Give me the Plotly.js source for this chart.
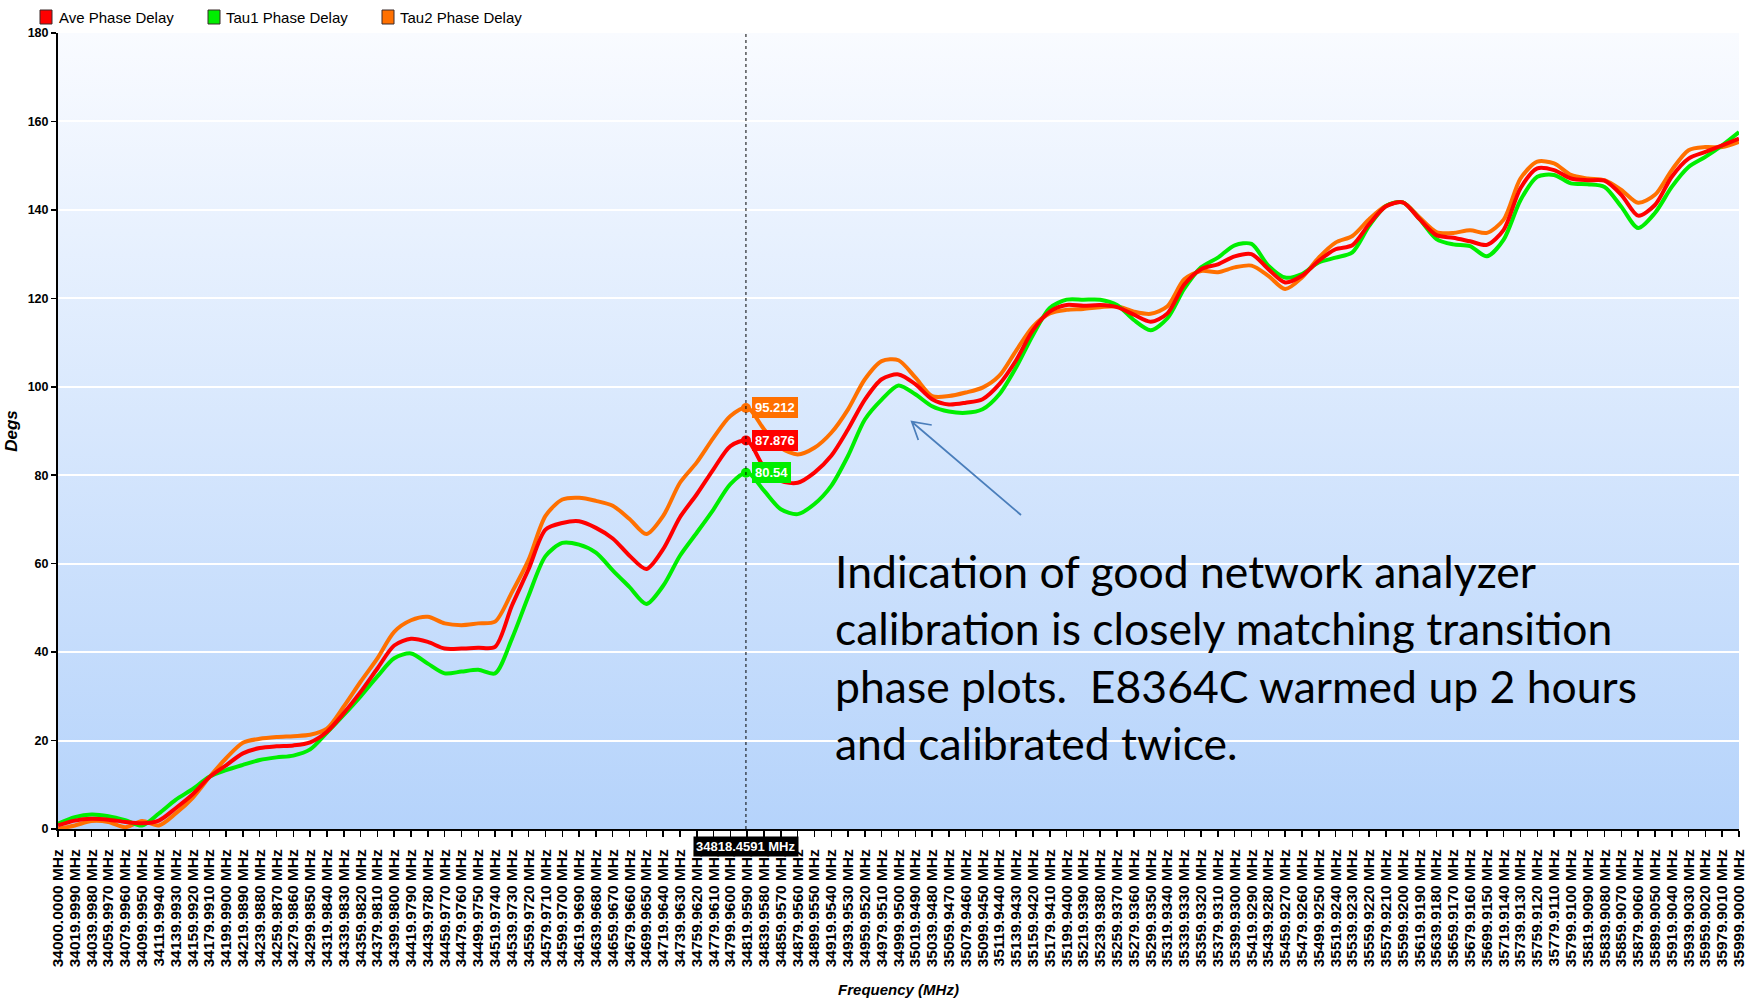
<!DOCTYPE html>
<html>
<head>
<meta charset="utf-8">
<script src="https://cdn.plot.ly/plotly-3.0.1.min.js"></script>
<style>
  html, body { margin: 0; padding: 0; background: #ffffff; }
  #chart { width: 1753px; height: 1005px; }
</style>
</head>
<body>
<div id="chart"></div>
<script>
// ---------------- data ----------------
const freqTicks = [
  34000.000, 34019.999, 34039.998, 34059.997, 34079.996, 34099.995, 34119.994, 34139.993, 34159.992, 34179.991,
  34199.990, 34219.989, 34239.988, 34259.987, 34279.986, 34299.985, 34319.984, 34339.983, 34359.982, 34379.981,
  34399.980, 34419.979, 34439.978, 34459.977, 34479.976, 34499.975, 34519.974, 34539.973, 34559.972, 34579.971,
  34599.970, 34619.969, 34639.968, 34659.967, 34679.966, 34699.965, 34719.964, 34739.963, 34759.962, 34779.961,
  34799.960, 34819.959, 34839.958, 34859.957, 34879.956, 34899.955, 34919.954, 34939.953, 34959.952, 34979.951,
  34999.950, 35019.949, 35039.948, 35059.947, 35079.946, 35099.945, 35119.944, 35139.943, 35159.942, 35179.941,
  35199.940, 35219.939, 35239.938, 35259.937, 35279.936, 35299.935, 35319.934, 35339.933, 35359.932, 35379.931,
  35399.930, 35419.929, 35439.928, 35459.927, 35479.926, 35499.925, 35519.924, 35539.923, 35559.922, 35579.921,
  35599.920, 35619.919, 35639.918, 35659.917, 35679.916, 35699.915, 35719.914, 35739.913, 35759.912, 35779.911,
  35799.910, 35819.909, 35839.908, 35859.907, 35879.906, 35899.905, 35919.904, 35939.903, 35959.902, 35979.901,
  35999.900
];

const aveDelay = [
  0.8, 1.9, 2.3, 2.1, 1.6, 1.3, 1.9, 4.7, 7.8, 11.7,
  14.4, 17.1, 18.3, 18.7, 18.9, 19.6, 22.0, 26.2, 31.0, 36.3,
  41.5, 43.0, 42.3, 40.8, 40.8, 41.0, 41.2, 50.5, 58.8, 67.7,
  69.2, 69.6, 68.1, 65.7, 61.8, 58.8, 63.3, 70.5, 75.7, 81.4,
  86.6, 87.8, 81.8, 78.7, 78.3, 80.6, 84.4, 90.4, 97.1, 101.7,
  102.8, 100.6, 97.2, 96.0, 96.4, 97.2, 100.6, 106.0, 112.8, 117.0,
  118.5, 118.3, 118.5, 118.0, 116.3, 114.7, 116.6, 123.1, 126.6, 127.7,
  129.5, 130.0, 126.6, 123.6, 125.1, 128.5, 131.1, 132.0, 136.8, 140.8,
  141.7, 137.9, 134.3, 133.7, 132.9, 132.1, 135.5, 144.9, 149.4, 149.0,
  147.1, 146.7, 146.6, 143.4, 138.7, 141.1, 147.5, 151.6, 153.1, 154.6,
  156.1
];

const tau1Delay = [
  1.2, 2.7, 3.3, 2.9, 2.0, 0.8, 3.5, 6.6, 9.0, 11.8,
  13.3, 14.5, 15.6, 16.2, 16.6, 18.0, 21.8, 25.8, 30.0, 34.5,
  38.6, 39.7, 37.4, 35.2, 35.6, 36.0, 35.2, 43.0, 52.8, 61.7,
  64.7, 64.3, 62.5, 58.5, 54.7, 50.9, 55.0, 61.8, 67.0, 72.3,
  78.0, 80.6, 76.5, 72.3, 71.2, 73.5, 77.6, 84.4, 92.6, 97.1,
  100.3, 98.3, 95.6, 94.4, 94.1, 94.9, 98.3, 104.4, 111.7, 117.8,
  119.7, 119.7, 119.7, 118.5, 115.1, 112.8, 115.5, 122.2, 127.0, 129.2,
  132.0, 132.3, 127.4, 124.7, 125.5, 128.1, 129.2, 130.4, 136.4, 140.9,
  141.7, 137.9, 133.4, 132.2, 131.8, 129.5, 133.3, 142.2, 147.5, 147.9,
  146.0, 145.8, 145.2, 140.7, 135.9, 139.3, 145.2, 149.7, 152.0, 154.6,
  157.6
];

const tau2Delay = [
  0.0, 0.8, 1.8, 1.6, 0.4, 1.8, 0.8, 3.5, 7.0, 11.7,
  16.0, 19.5, 20.4, 20.8, 21.0, 21.3, 22.7, 27.7, 33.3, 38.6,
  44.6, 47.2, 48.0, 46.5, 46.1, 46.5, 46.9, 53.5, 60.9, 70.8,
  74.5, 74.9, 74.2, 73.1, 70.1, 66.7, 70.8, 78.3, 82.9, 88.5,
  93.4, 95.3, 90.4, 86.2, 84.7, 86.2, 89.6, 94.9, 101.7, 105.8,
  106.0, 102.1, 97.9, 97.9, 98.7, 99.8, 102.5, 108.2, 113.6, 116.6,
  117.4, 117.6, 118.0, 118.2, 117.0, 116.5, 118.2, 124.3, 126.2, 125.9,
  127.0, 127.4, 125.1, 122.1, 124.7, 129.2, 132.6, 134.1, 137.9, 140.9,
  141.7, 138.3, 135.0, 134.8, 135.4, 134.8, 137.8, 147.1, 150.9, 150.5,
  147.9, 147.1, 146.7, 144.5, 141.6, 143.4, 149.0, 153.5, 154.2, 154.2,
  155.4
];

const seriesNames = ['Ave Phase Delay', 'Tau1 Phase Delay', 'Tau2 Phase Delay'];
const cursorFreq = 34818.4591;
const cursorValues = [87.876, 80.54, 95.212];   // Ave, Tau1, Tau2
const cursorLabels = ['87.876', '80.54', '95.212'];
const yTickValues = [0, 20, 40, 60, 80, 100, 120, 140, 160, 180];
const noteLines = [
  'Indication of good network analyzer',
  'calibration is closely matching transition',
  'phase plots.  E8364C warmed up 2 hours',
  'and calibrated twice.'
];
const arrowTail = [35145.7, 71.0];
const arrowTip = [35015.7, 92.1];
const arrowArm1 = [35039.5, 91.36];
const arrowArm2 = [35023.5, 87.97];

// ---------------- styling ----------------
const colors = ['#ff0000', '#00ee00', '#ff7000'];
const SANS = "'Liberation Sans', Arial, sans-serif";
const W = 1753, H = 1005;
const M = { l: 58, r: 14, t: 33, b: 176 };
const PW = W - M.l - M.r, PH = H - M.t - M.b;
const px = x => (x - M.l) / PW;          // pixel -> paper x
const py = y => (H - M.b - y) / PH;      // pixel -> paper y

const series = [aveDelay, tau1Delay, tau2Delay];
const drawOrder = [2, 1, 0];
const traces = drawOrder.map(i => ({
  type: 'scatter', mode: 'lines', name: seriesNames[i],
  x: freqTicks, y: series[i],
  line: { color: colors[i], width: 4, shape: 'spline', smoothing: 0.8 },
  showlegend: false, hoverinfo: 'x+y'
}));
traces.push({
  type: 'scatter', mode: 'markers', name: 'cursor',
  x: cursorValues.map(() => cursorFreq), y: cursorValues,
  marker: { color: colors, size: 10 }, showlegend: false
});

const bgSvg = "<svg xmlns='http://www.w3.org/2000/svg' width='10' height='100' preserveAspectRatio='none'>" +
  "<defs><linearGradient id='g' x1='0' y1='0' x2='0' y2='1'>" +
  "<stop offset='0' stop-color='#f9fbff'/><stop offset='1' stop-color='#b5d3fb'/>" +
  "</linearGradient></defs><rect width='10' height='100' fill='url(#g)'/></svg>";

const shapes = [
  { type: 'line', xref: 'x', yref: 'paper', x0: cursorFreq, x1: cursorFreq, y0: 0, y1: 1,
    line: { color: '#000000', width: 1, dash: 'dot' }, layer: 'above' },
  { type: 'path', xref: 'x', yref: 'y', layer: 'above',
    path: `M ${arrowTail[0]},${arrowTail[1]} L ${arrowTip[0]},${arrowTip[1]} M ${arrowArm1[0]},${arrowArm1[1]} L ${arrowTip[0]},${arrowTip[1]} L ${arrowArm2[0]},${arrowArm2[1]}`,
    line: { color: '#4a7ebb', width: 1.75 } }
];

const legendSquareX = [40, 208, 382];
const legendTextX = [57, 224, 398];
const annotations = [];
seriesNames.forEach((name, i) => {
  shapes.push({ type: 'rect', xref: 'paper', yref: 'paper',
    x0: px(legendSquareX[i]), x1: px(legendSquareX[i] + 12), y0: py(24), y1: py(10),
    fillcolor: colors[i], line: { color: '#3a2a2a', width: 1 } });
  annotations.push({ xref: 'paper', yref: 'paper', x: px(legendTextX[i]), y: py(17.5),
    xanchor: 'left', yanchor: 'middle', showarrow: false, text: name,
    font: { family: SANS, size: 15, color: '#000000' } });
});

cursorValues.forEach((v, i) => {
  annotations.push({ xref: 'x', yref: 'y', x: cursorFreq, y: v, xanchor: 'left', yanchor: 'middle',
    xshift: 6, showarrow: false, text: cursorLabels[i], bgcolor: colors[i], borderpad: 2,
    bordercolor: colors[i], font: { family: SANS, size: 13, color: '#ffffff', weight: 'bold' } });
});

annotations.push({ xref: 'x', yref: 'paper', x: cursorFreq, y: py(846.5), xanchor: 'center', yanchor: 'middle',
  showarrow: false, text: cursorFreq.toFixed(4) + ' MHz', bgcolor: '#000000', borderpad: 2,
  font: { family: SANS, size: 13, color: '#ffffff', weight: 'bold' } });

noteLines.forEach((t, k) => {
  annotations.push({ xref: 'paper', yref: 'paper', x: px(833), y: py(570 + 57.6 * k),
    xanchor: 'left', yanchor: 'middle', showarrow: false, text: t,
    font: { family: "Lato, 'Open Sans', sans-serif", size: 44.5, color: '#000000' } });
});

const layout = {
  width: W, height: H,
  margin: M,
  paper_bgcolor: '#ffffff',
  plot_bgcolor: 'rgba(0,0,0,0)',
  showlegend: false,
  images: [{ source: 'data:image/svg+xml;utf8,' + encodeURIComponent(bgSvg),
    xref: 'paper', yref: 'paper', x: 0, y: 1, sizex: 1, sizey: 1,
    sizing: 'stretch', xanchor: 'left', yanchor: 'top', layer: 'below' }],
  xaxis: {
    range: [freqTicks[0], freqTicks[freqTicks.length - 1]],
    tickmode: 'array', tickvals: freqTicks,
    ticktext: freqTicks.map(v => v.toFixed(4) + ' MHz'),
    tickangle: -90, ticks: 'outside', ticklen: 6, tickwidth: 1.5, tickcolor: '#000000',
    ticklabelstandoff: 6,
    tickfont: { family: SANS, size: 15.5, color: '#000000', weight: 'bold' },
    showline: true, linecolor: '#000000', linewidth: 2,
    showgrid: false, zeroline: false,
    title: { text: 'Frequency (MHz)', standoff: 18,
      font: { family: SANS, size: 15, color: '#000000', style: 'italic', weight: 'bold' } }
  },
  yaxis: {
    range: [0, 180], tickmode: 'array', tickvals: yTickValues,
    ticks: 'outside', ticklen: 5, tickwidth: 1.5, tickcolor: '#000000',
    tickfont: { family: SANS, size: 12.5, color: '#000000', weight: 'bold' },
    showline: true, linecolor: '#000000', linewidth: 2,
    showgrid: true, gridcolor: '#ffffff', gridwidth: 2, zeroline: false,
    title: { text: 'Degs', standoff: 6,
      font: { family: SANS, size: 17, color: '#000000', style: 'italic', weight: 'bold' } }
  },
  shapes: shapes,
  annotations: annotations
};

Plotly.newPlot('chart', traces, layout, { displayModeBar: false, staticPlot: true });
</script>
</body>
</html>
